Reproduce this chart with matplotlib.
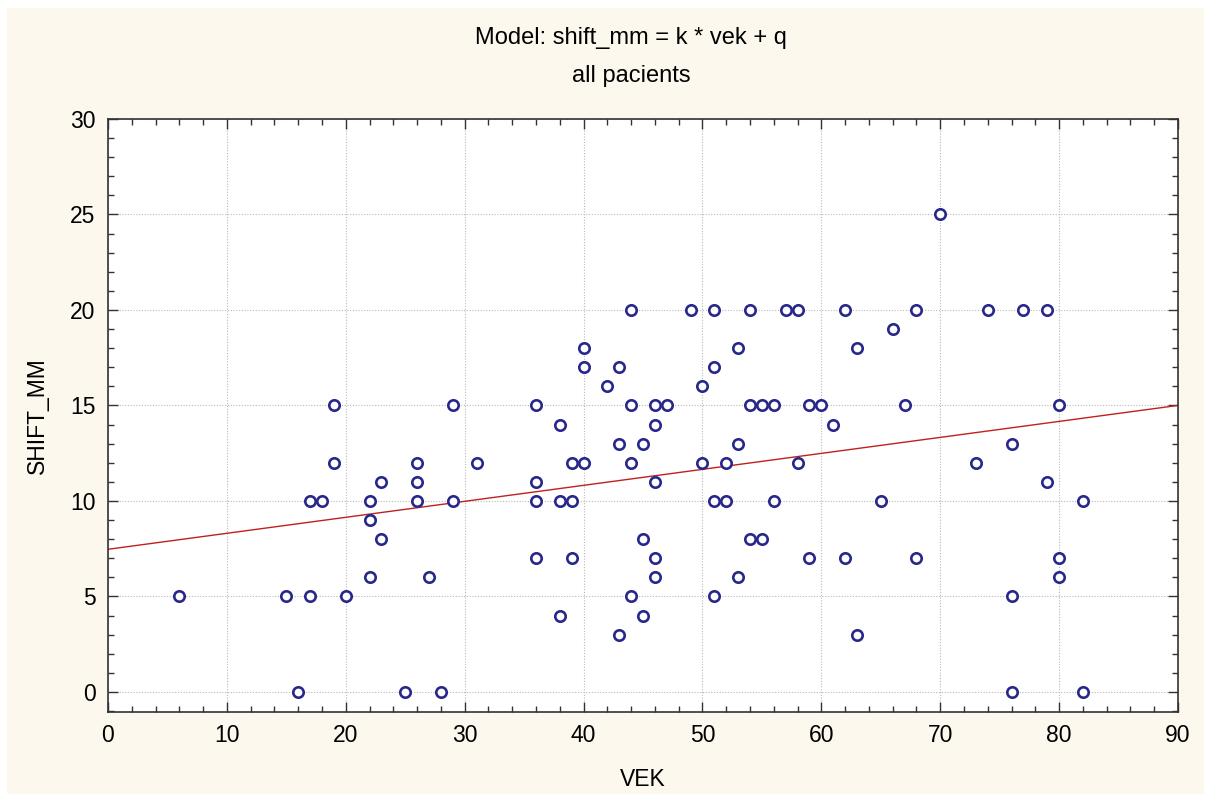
import matplotlib
matplotlib.use("Agg")
import matplotlib.pyplot as plt
import numpy as np
from matplotlib.patches import Rectangle
from matplotlib.ticker import MultipleLocator

plt.rcParams['font.family'] = ['Liberation Sans', 'DejaVu Sans']

vek = [6, 15, 17, 20, 16, 25, 28, 19, 29, 19, 26, 31, 23, 26, 17, 18, 22, 26, 29, 22, 23, 22, 27,
       42, 50, 36, 44, 46, 47, 54, 55, 56, 59, 60, 38, 46, 61, 43, 45, 53,
       39, 40, 44, 50, 52, 58, 36, 46, 36, 38, 39, 51, 52, 56, 65,
       45, 54, 55, 36, 39, 46, 59, 62, 46, 53, 44, 51, 38, 45, 43, 63,
       67, 80, 76, 73, 79, 82, 68, 80, 80, 76, 76, 82,
       44, 49, 51, 54, 57, 58, 40, 53, 40, 43, 51,
       70, 62, 68, 74, 77, 79, 66, 63]
shift_mm = [5, 5, 5, 5, 0, 0, 0, 15, 15, 12, 12, 12, 11, 11, 10, 10, 10, 10, 10, 9, 8, 6, 6,
            16, 16, 15, 15, 15, 15, 15, 15, 15, 15, 15, 14, 14, 14, 13, 13, 13,
            12, 12, 12, 12, 12, 12, 11, 11, 10, 10, 10, 10, 10, 10, 10,
            8, 8, 8, 7, 7, 7, 7, 7, 6, 6, 5, 5, 4, 4, 3, 3,
            15, 15, 13, 12, 11, 10, 7, 7, 6, 5, 0, 0,
            20, 20, 20, 20, 20, 20, 18, 18, 17, 17, 17,
            25, 20, 20, 20, 20, 20, 19, 18]

q_intercept = 7.47
k_slope = 0.0837

title_lines = ["Model: shift_mm = k * vek + q", "all pacients"]

W, H = 1212, 802
fig = plt.figure(figsize=(W / 100, H / 100), dpi=100)
fig.patch.set_facecolor("white")
fig.add_artist(Rectangle((7 / W, 8 / H), 1 - 15 / W, 1 - 16 / H, transform=fig.transFigure,
                         facecolor="#fcf8ee", edgecolor="none", zorder=0))

ax = fig.add_axes([108 / W, 1 - 712 / H, (1178 - 108) / W, (712 - 119) / H])
ax.set_facecolor("white")
ax.set_xlim(0, 90)
ax.set_ylim(-1.05, 30)

ax.xaxis.set_major_locator(MultipleLocator(10))
ax.xaxis.set_minor_locator(MultipleLocator(2))
ax.yaxis.set_major_locator(MultipleLocator(5))
ax.yaxis.set_minor_locator(MultipleLocator(1))
ax.tick_params(which="both", direction="in", top=True, right=True, color="#333333")
ax.tick_params(which="major", length=7, width=1, labelsize=16.5, pad=9)
ax.tick_params(which="minor", length=4, width=1)
ax.grid(True, which="major", linestyle=(0, (1, 1.5)), color="#b8b8b8", linewidth=0.8)
for s in ax.spines.values():
    s.set_color("#333333")
    s.set_linewidth(1.2)

xs = np.array([0, 90])
ax.plot(xs, q_intercept + k_slope * xs, color="#c02020", linewidth=1.0, zorder=2)
ax.plot(vek, shift_mm, linestyle="none", marker="o", markersize=7.5, markerfacecolor="white",
        markeredgecolor="#28288a", markeredgewidth=1.9, zorder=3, clip_on=False)

ax.set_xlabel("VEK", fontsize=16.5)
ax.xaxis.label.set_va("center")
ax.xaxis.set_label_coords(0.5, (712 - 780) / (712 - 119))
ax.set_ylabel("SHIFT_MM", fontsize=16.5)
ax.yaxis.label.set_va("center")
ax.yaxis.set_label_coords((37 - 108) / (1178 - 108), 0.5)

fig.text(631 / W, 1 - 38 / H, title_lines[0], ha="center", va="center", fontsize=17)
fig.text(631 / W, 1 - 76 / H, title_lines[1], ha="center", va="center", fontsize=17)

fig.savefig("out.png", dpi=100, facecolor=fig.get_facecolor())
